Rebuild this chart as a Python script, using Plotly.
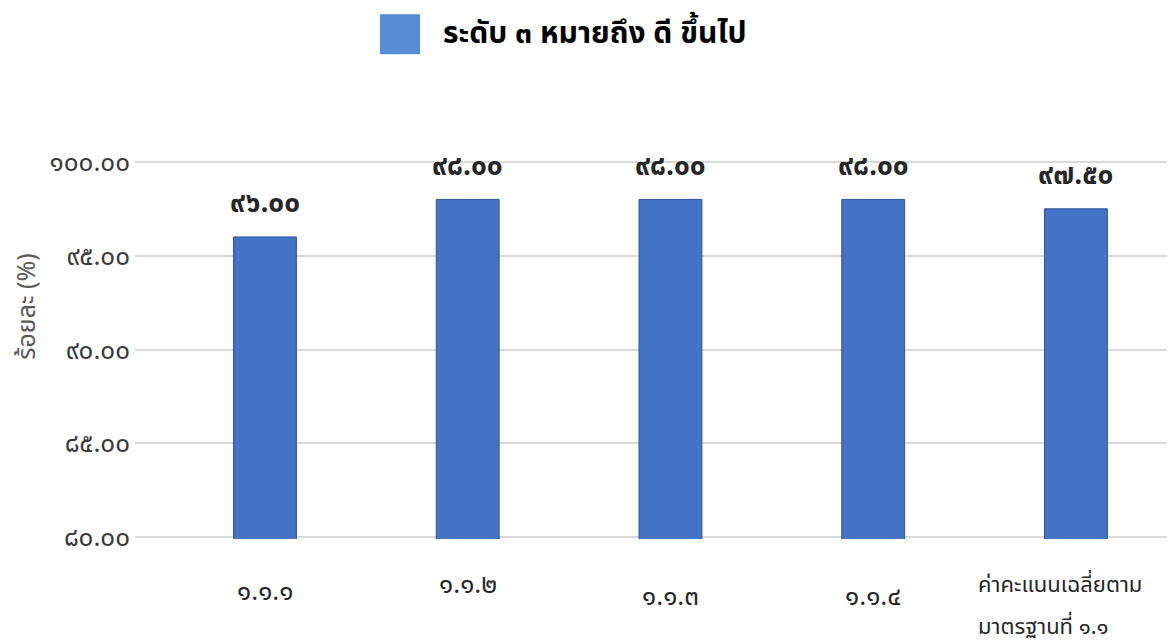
import plotly.graph_objects as go

THAI_DIGITS = str.maketrans('0123456789', '๐๑๒๓๔๕๖๗๘๙')

def thai(s):
    return str(s).translate(THAI_DIGITS)

# data
categories = ['1.1.1', '1.1.2', '1.1.3', '1.1.4', 'ค่าคะแนนเฉลี่ยตาม<br>มาตรฐานที่ 1.1']
scores = [96.00, 98.00, 98.00, 98.00, 97.50]
y_ticks = [80, 85, 90, 95, 100]
series_name = 'ระดับ 3 หมายถึง ดี ขึ้นไป'
y_title = 'ร้อยละ (%)'

# layout-only tweaks for the category labels (px below axis line)
label_drop = [53, 46, 58, 58, 46]

THAI_FONT = 'Noto Sans Thai, Noto Sans, Loma, sans-serif'

x = list(range(len(categories)))

fig = go.Figure()
fig.add_trace(go.Bar(
    x=x, y=scores, width=0.31,
    marker=dict(color='#4472C4', line=dict(color='#2F5597', width=1)),
    showlegend=False, hoverinfo='y'
))

# value labels above bars
for xi, v in zip(x, scores):
    fig.add_annotation(x=xi, y=v, text=thai(f'{v:.2f}'), showarrow=False,
                       yanchor='middle', yshift=33,
                       font=dict(size=28, color='#262626', family=THAI_FONT, weight='bold'))

# category labels
for i, (xi, lab) in enumerate(zip(x, categories)):
    lines = lab.split('<br>')
    multi = len(lines) > 1
    for j, line in enumerate(lines):
        fig.add_annotation(x=xi, xref='x', y=0, yref='paper', text=thai(line),
                           showarrow=False, yanchor='middle', yshift=-(label_drop[i] + 42 * j),
                           xanchor='left' if multi else 'center', xshift=-100 if multi else 0,
                           font=dict(size=22 if multi else 26, color='#262626', family=THAI_FONT))

# y axis title, placed by hand
fig.add_annotation(x=-0.1030, y=0.613, xref='paper', yref='paper', text=y_title,
                   showarrow=False, textangle=-90, xanchor='center', yanchor='middle',
                   font=dict(size=25, color='#595959', family=THAI_FONT))

# legend (drawn by hand for a large swatch)
fig.add_shape(type='rect', xref='paper', yref='paper',
              xsizemode='pixel', ysizemode='pixel',
              xanchor=0.2529, yanchor=1.3316, x0=-20, x1=20, y0=-20, y1=20,
              fillcolor='#558ED5', line=dict(width=0))
fig.add_annotation(x=0.2920, y=1.3316, xref='paper', yref='paper', text=thai(series_name),
                   showarrow=False, xanchor='left', yanchor='middle',
                   font=dict(size=30, color='#000000', family=THAI_FONT, weight='bold'))

fig.update_xaxes(range=[-0.641, 4.528], showticklabels=False, showgrid=False,
                 zeroline=False, showline=False, ticks='')
fig.update_yaxes(range=[79.9, 100.1], tickvals=y_ticks, ticktext=[thai(f'{t:.2f}') for t in y_ticks],
                 showgrid=True, gridcolor='#D9D9D9', gridwidth=2, zeroline=False,
                 tickfont=dict(size=26, color='#3A3A3A', family=THAI_FONT),
                 ticklabelstandoff=4)

# the page has an 8px body margin, so margins are shifted to keep the plot area in place
fig.update_layout(
    width=1175, height=643,
    margin=dict(l=127, r=0, t=152, b=112),
    plot_bgcolor='white', paper_bgcolor='white',
    font=dict(family=THAI_FONT),
)

fig.write_html('out.html')
